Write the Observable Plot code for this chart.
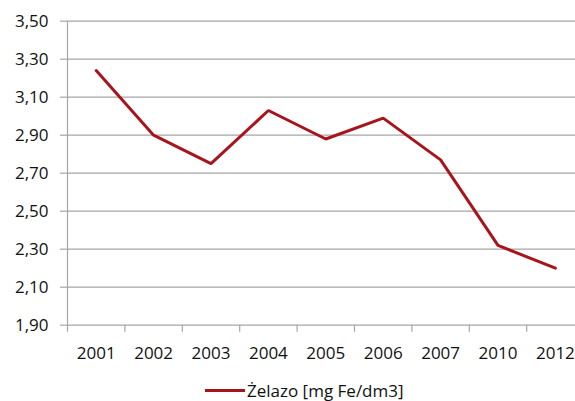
<!DOCTYPE html>
<html>
<head>
<meta charset="utf-8">
<script src="https://cdn.jsdelivr.net/npm/d3@7"></script>
<script src="https://cdn.jsdelivr.net/npm/@observablehq/plot@0.6"></script>
<style>
  html, body { margin: 0; padding: 0; background: #fff; overflow: hidden; }
  #wrap { position: relative; width: 575px; height: 401px; }
  #legend { position: absolute; left: 205px; top: 379px; display: flex; align-items: center;
    font-family: "Open Sans", sans-serif; font-size: 17px; color: #111; white-space: nowrap; }
  #legend .sw { display: inline-block; width: 40px; height: 0; border-top: 3px solid #a8141c; margin-right: 2px; }
</style>
</head>
<body>
<div id="wrap"><div id="chart"></div><div id="legend"><span class="sw"></span><span id="ltext"></span></div></div>
<script>
const categories = ["2001", "2002", "2003", "2004", "2005", "2006", "2007", "2010", "2012"];
const values = [3.24, 2.90, 2.75, 3.03, 2.88, 2.99, 2.77, 2.32, 2.20];
const yTicks = [1.90, 2.10, 2.30, 2.50, 2.70, 2.90, 3.10, 3.30, 3.50];
const seriesName = "Żelazo [mg Fe/dm3]";

const data = categories.map((c, i) => ({i, c, v: values[i]}));
const idx = categories.map((c, i) => i);
const bounds = categories.map((c, i) => i - 0.5);
const fmt = d => d.toFixed(2).replace(".", ",");

const chart = Plot.plot({
  width: 575,
  height: 372,
  marginLeft: 67,
  marginRight: 0,
  marginTop: 20.7,
  marginBottom: 47.3,
  style: {fontFamily: "Open Sans, sans-serif", fontSize: "17px", color: "#111", overflow: "hidden", background: "#fff"},
  x: {type: "linear", domain: [-0.5, categories.length - 0.5], range: [67, 583.6]},
  y: {domain: [1.9, 3.5], range: [324.7, 20.7]},
  marks: [
    Plot.ruleY(yTicks, {stroke: "#a6a6a6", strokeWidth: 1.2}),
    Plot.ruleX([-0.5], {y1: 1.9, y2: 3.5, stroke: "#a6a6a6", strokeWidth: 1.2}),
    Plot.axisY({ticks: yTicks, tickSize: 7, tickFormat: () => "", stroke: "#a6a6a6", strokeWidth: 1.2, strokeOpacity: 1, label: null}),
    Plot.axisY({ticks: yTicks, tickSize: 0, tickPadding: 19, tickFormat: fmt, label: null, fill: "#111"}),
    Plot.axisX({ticks: bounds, tickSize: 7, tickFormat: () => "", stroke: "#a6a6a6", strokeWidth: 1.2, strokeOpacity: 1, label: null}),
    Plot.axisX({ticks: idx, tickSize: 0, tickPadding: 22, tickFormat: i => categories[i], label: null, fill: "#111"}),
    Plot.line(data, {x: "i", y: "v", stroke: "#a8141c", strokeWidth: 3, strokeLinejoin: "miter"})
  ]
});
document.getElementById("chart").appendChild(chart);
document.getElementById("ltext").textContent = seriesName;
</script>
</body>
</html>
